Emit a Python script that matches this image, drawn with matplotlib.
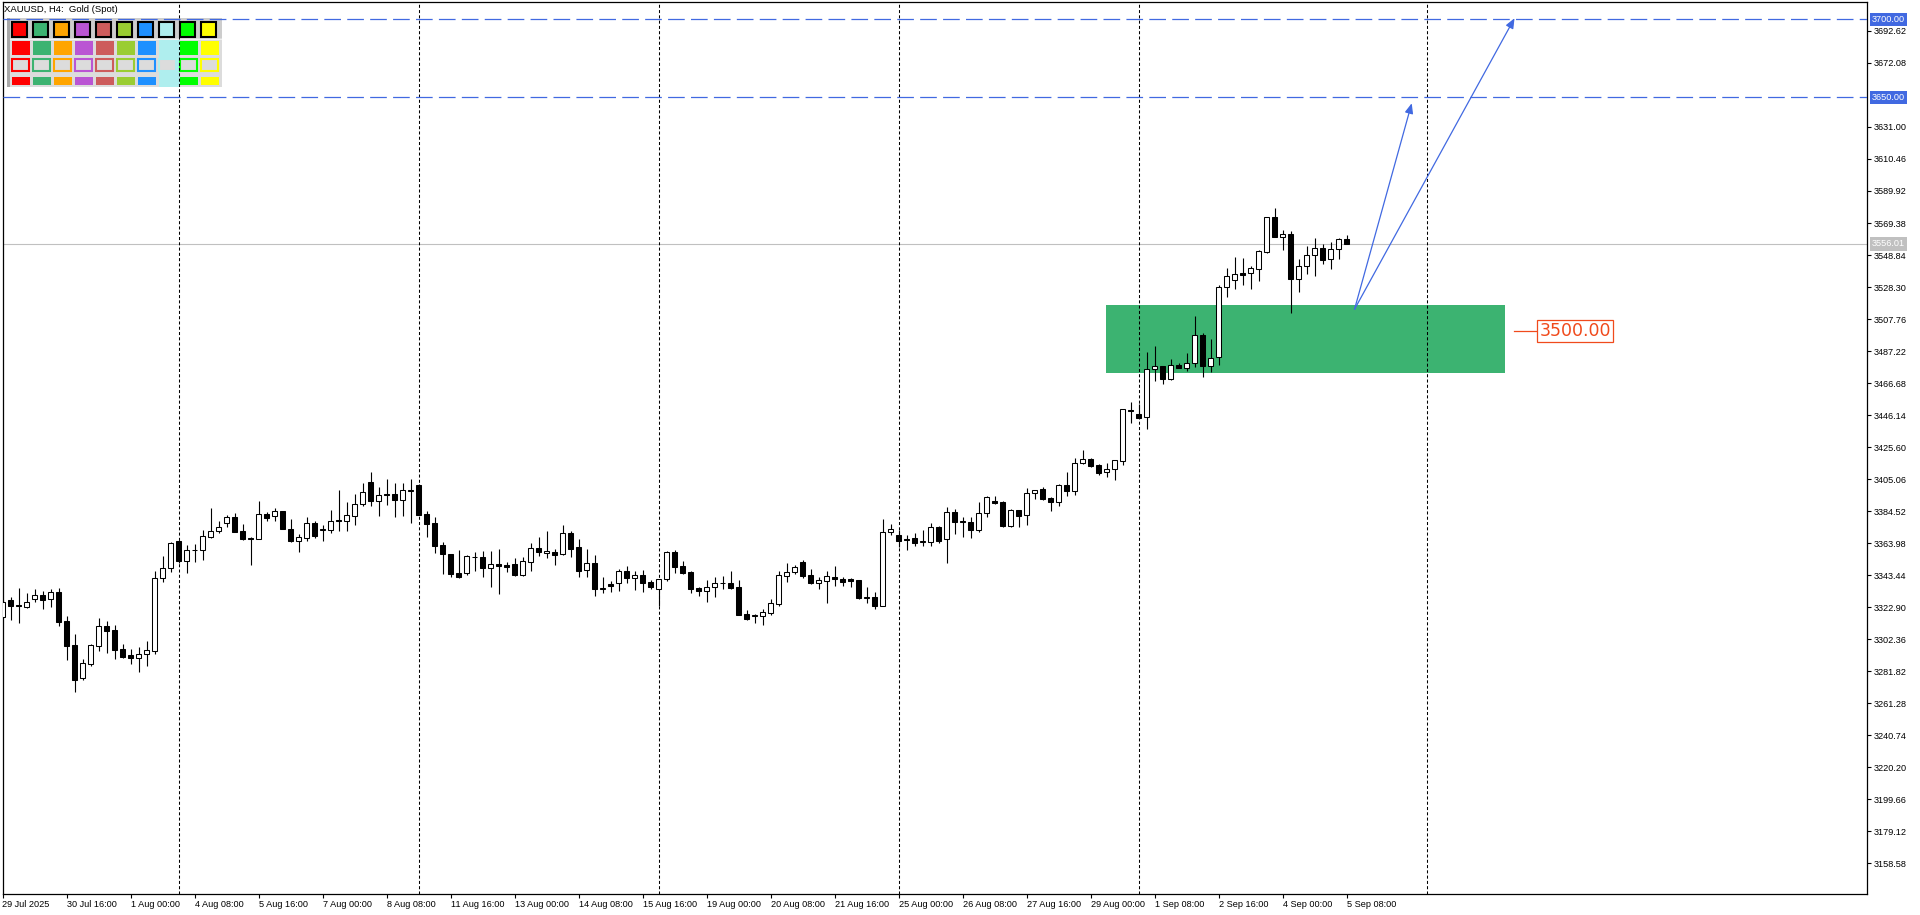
import matplotlib
matplotlib.use('Agg')
import matplotlib.pyplot as plt
import matplotlib.transforms as mtransforms
from matplotlib.patches import Rectangle

plt.rcParams['font.family'] = ['Liberation Sans', 'DejaVu Sans']
plt.rcParams['lines.scale_dashes'] = False

# XAUUSD H4, свечи по порядку (индекс бара = позиция по X)
opens = [3316.7, 3327.2, 3324.2, 3323.2, 3328.3, 3330.6, 3327.8, 3332.3, 3314.0, 3298.6,
         3277.6, 3286.6, 3298.1, 3310.8, 3308.2, 3296.0, 3292.1, 3290.4, 3292.6, 3294.9,
         3341.3, 3347.7, 3365.3, 3352.7, 3359.3, 3359.3, 3368.1, 3371.5, 3376.6, 3380.5,
         3371.7, 3367.2, 3366.8, 3382.6, 3381.5, 3384.3, 3372.8, 3365.5, 3367.4, 3376.6,
         3372.6, 3372.6, 3378.8, 3378.3, 3381.1, 3388.8, 3402.9, 3390.7, 3395.4, 3395.4,
         3391.8, 3397.6, 3401.2, 3382.6, 3376.8, 3362.7, 3356.9, 3344.5, 3344.5, 3354.8,
         3355.0, 3348.2, 3350.3, 3349.9, 3350.5, 3343.5, 3352.0, 3360.6, 3357.8, 3358.2,
         3356.9, 3370.2, 3361.2, 3346.5, 3351.0, 3334.7, 3337.7, 3338.1, 3345.8, 3341.8,
         3343.3, 3338.8, 3334.7, 3340.7, 3358.0, 3349.2, 3345.4, 3334.9, 3333.4, 3335.6,
         3338.1, 3338.1, 3335.8, 3318.2, 3317.4, 3316.9, 3319.3, 3325.1, 3343.1, 3345.2,
         3351.6, 3343.3, 3338.6, 3339.8, 3342.2, 3340.7, 3340.7, 3340.3, 3328.9, 3329.1,
         3323.8, 3370.9, 3369.0, 3366.6, 3367.3, 3364.5, 3364.9, 3374.1, 3366.8, 3384.0,
         3378.2, 3377.5, 3372.6, 3383.1, 3391.0, 3390.4, 3375.2, 3385.0, 3381.8, 3395.9,
         3398.5, 3392.9, 3390.6, 3401.3, 3397.6, 3415.6, 3417.8, 3413.9, 3409.4, 3411.3,
         3416.9, 3449.2, 3446.8, 3444.7, 3475.5, 3477.4, 3469.5, 3478.3, 3476.2, 3479.4,
         3497.3, 3477.9, 3483.2, 3528.1, 3533.1, 3537.1, 3537.1, 3540.1, 3551.0, 3573.1,
         3560.7, 3562.4, 3533.3, 3541.6, 3548.7, 3553.2, 3546.1, 3552.5, 3558.9]
highs = [3327.4, 3329.6, 3334.9, 3331.7, 3334.3, 3333.4, 3334.5, 3335.1, 3317.2, 3305.6,
         3289.6, 3299.2, 3315.9, 3314.0, 3311.4, 3299.2, 3295.8, 3297.5, 3301.1, 3346.0,
         3355.7, 3364.4, 3365.3, 3362.7, 3363.1, 3372.3, 3386.5, 3378.1, 3382.0, 3383.3,
         3376.2, 3367.6, 3391.0, 3383.9, 3386.3, 3384.3, 3379.4, 3369.6, 3380.5, 3378.1,
         3375.6, 3385.2, 3398.0, 3390.3, 3395.2, 3402.5, 3409.6, 3400.2, 3405.1, 3402.5,
         3402.5, 3405.1, 3401.8, 3384.8, 3380.5, 3364.4, 3357.2, 3359.5, 3356.3, 3358.0,
         3358.9, 3358.9, 3360.2, 3352.0, 3354.2, 3354.8, 3363.8, 3367.6, 3371.7, 3360.0,
         3375.3, 3371.7, 3366.6, 3360.2, 3356.1, 3342.2, 3339.6, 3347.1, 3349.2, 3346.0,
         3346.7, 3340.3, 3340.7, 3358.9, 3359.5, 3352.5, 3346.0, 3336.0, 3340.3, 3342.2,
         3342.8, 3346.0, 3340.3, 3321.0, 3318.4, 3321.4, 3327.8, 3346.0, 3351.0, 3349.7,
         3353.1, 3347.3, 3342.4, 3345.8, 3349.2, 3342.4, 3341.8, 3340.5, 3335.8, 3332.6,
         3379.2, 3376.3, 3372.4, 3369.2, 3370.3, 3372.4, 3376.9, 3375.0, 3387.2, 3385.9,
         3380.7, 3380.5, 3390.6, 3394.2, 3394.2, 3390.8, 3385.7, 3385.5, 3399.6, 3397.9,
         3400.0, 3393.8, 3402.1, 3409.6, 3418.6, 3423.7, 3418.6, 3414.8, 3415.4, 3417.1,
         3450.3, 3454.5, 3453.0, 3486.6, 3490.5, 3477.6, 3482.2, 3479.6, 3486.0, 3509.7,
         3498.8, 3495.0, 3529.6, 3540.5, 3547.6, 3547.0, 3542.0, 3552.1, 3573.3, 3579.1,
         3564.9, 3564.3, 3546.3, 3554.9, 3559.8, 3556.0, 3557.2, 3559.6, 3561.5]
lows = [3315.7, 3314.6, 3312.5, 3322.5, 3326.4, 3321.9, 3323.2, 3311.0, 3288.9, 3268.6,
        3276.3, 3285.1, 3294.9, 3293.6, 3289.6, 3290.4, 3286.4, 3281.4, 3285.3, 3293.0,
        3339.2, 3345.6, 3351.0, 3345.0, 3352.0, 3353.3, 3367.4, 3370.6, 3374.1, 3371.3,
        3366.1, 3350.1, 3366.4, 3378.3, 3378.3, 3372.8, 3364.9, 3358.4, 3365.5, 3367.4,
        3365.5, 3370.4, 3371.9, 3371.9, 3375.8, 3388.0, 3388.0, 3381.3, 3388.6, 3380.9,
        3381.3, 3376.6, 3382.2, 3368.1, 3357.8, 3344.3, 3342.0, 3341.8, 3343.5, 3346.2,
        3342.4, 3336.0, 3331.3, 3345.6, 3343.0, 3343.0, 3346.2, 3355.9, 3354.6, 3349.9,
        3356.5, 3355.2, 3342.0, 3342.4, 3330.2, 3332.1, 3332.6, 3333.4, 3338.6, 3333.9,
        3332.6, 3334.7, 3323.8, 3339.8, 3345.0, 3344.3, 3331.7, 3330.0, 3326.1, 3329.6,
        3334.7, 3334.7, 3317.6, 3314.8, 3312.9, 3311.4, 3317.8, 3323.8, 3339.2, 3344.3,
        3341.8, 3337.9, 3334.7, 3325.7, 3336.6, 3336.6, 3336.0, 3328.1, 3325.7, 3321.9,
        3323.6, 3369.4, 3361.7, 3359.6, 3362.4, 3362.4, 3362.4, 3364.3, 3351.0, 3370.1,
        3367.9, 3367.3, 3370.9, 3381.0, 3389.3, 3374.5, 3374.5, 3374.5, 3375.6, 3392.3,
        3391.9, 3384.8, 3387.8, 3394.4, 3395.1, 3414.8, 3413.0, 3407.9, 3406.6, 3404.5,
        3414.1, 3441.1, 3444.5, 3437.4, 3468.2, 3466.3, 3468.9, 3476.6, 3474.7, 3477.2,
        3470.8, 3474.0, 3478.5, 3522.2, 3526.9, 3529.6, 3527.3, 3532.4, 3550.0, 3560.2,
        3552.3, 3511.9, 3524.9, 3536.9, 3535.6, 3542.9, 3540.1, 3546.5, 3556.0]
closes = [3326.4, 3323.8, 3323.4, 3325.9, 3330.6, 3327.6, 3332.3, 3313.5, 3298.1, 3276.3,
          3287.0, 3298.6, 3310.8, 3307.8, 3295.6, 3291.1, 3290.4, 3292.6, 3295.1, 3341.3,
          3347.7, 3363.8, 3352.7, 3359.3, 3359.5, 3368.3, 3371.7, 3374.1, 3380.5, 3371.3,
          3366.8, 3366.4, 3382.4, 3380.3, 3384.3, 3372.8, 3365.5, 3367.6, 3376.6, 3368.5,
          3373.0, 3378.1, 3377.9, 3381.8, 3389.0, 3396.5, 3390.7, 3394.8, 3394.6, 3391.8,
          3397.8, 3398.0, 3382.2, 3376.4, 3362.3, 3357.2, 3344.3, 3342.4, 3355.7, 3355.0,
          3348.2, 3350.3, 3349.5, 3348.8, 3343.5, 3352.5, 3360.6, 3358.4, 3358.7, 3356.5,
          3370.2, 3360.4, 3346.2, 3351.0, 3334.7, 3335.3, 3336.6, 3345.8, 3341.8, 3343.3,
          3338.6, 3336.0, 3340.7, 3358.0, 3348.8, 3345.0, 3334.7, 3333.4, 3335.6, 3338.1,
          3338.3, 3335.1, 3318.0, 3315.4, 3317.8, 3319.5, 3325.3, 3343.3, 3345.2, 3348.4,
          3343.0, 3338.6, 3340.0, 3342.6, 3340.7, 3338.8, 3339.8, 3328.9, 3329.4, 3323.8,
          3370.9, 3372.8, 3365.6, 3366.0, 3364.3, 3365.4, 3374.1, 3365.6, 3383.7, 3377.8,
          3377.3, 3372.6, 3383.1, 3393.4, 3389.9, 3375.0, 3385.2, 3381.6, 3396.2, 3397.9,
          3392.3, 3390.6, 3401.3, 3397.6, 3415.6, 3417.8, 3413.7, 3409.2, 3411.3, 3417.1,
          3449.8, 3448.6, 3444.5, 3475.5, 3477.4, 3469.5, 3478.1, 3476.6, 3479.4, 3497.3,
          3477.9, 3482.6, 3528.1, 3535.2, 3536.5, 3536.3, 3540.3, 3551.5, 3573.1, 3560.7,
          3562.4, 3533.3, 3541.6, 3548.7, 3553.2, 3545.9, 3552.5, 3558.9, 3556.01]

# подписи оси времени (каждый 8-й бар)
time_labels = ['29 Jul 2025', '30 Jul 16:00', '1 Aug 00:00', '4 Aug 08:00', '5 Aug 16:00',
               '7 Aug 00:00', '8 Aug 08:00', '11 Aug 16:00', '13 Aug 00:00', '14 Aug 08:00',
               '15 Aug 16:00', '19 Aug 00:00', '20 Aug 08:00', '21 Aug 16:00', '25 Aug 00:00',
               '26 Aug 08:00', '27 Aug 16:00', '29 Aug 00:00', '1 Sep 08:00', '2 Sep 16:00',
               '4 Sep 00:00', '5 Sep 08:00']
label_step = 8

price_ticks = [3692.62, 3672.08, 3631.00, 3610.46, 3589.92, 3569.38, 3548.84, 3528.30,
               3507.76, 3487.22, 3466.68, 3446.14, 3425.60, 3405.06, 3384.52, 3363.98,
               3343.44, 3322.90, 3302.36, 3281.82, 3261.28, 3240.74, 3220.20, 3199.66,
               3179.12, 3158.58]

# разделители недель (бар понедельника 00:00)
week_starts = [22, 52, 82, 112, 142, 178]

# объекты на графике
target_levels = [3700.00, 3650.00]
last_price = 3556.01
zone_bars = [137.9, 187.8]
zone_prices = [3473.3, 3516.8]
arrow_start = (169.0, 3514.0)
arrow_ends = [(176.15, 3646.2), (189.0, 3700.8)]
label_price = 3500.00

palette = ['#FF0000', '#3CB371', '#FFA500', '#BA55D3', '#CD5C5C',
           '#9ACD32', '#1E90FF', '#AFEEEE', '#00FF00', '#FFFF00']

BLUE = '#4169E1'
RED = '#F04A1C'

W, H = 1920, 915
fig = plt.figure(figsize=(W / 100, H / 100), dpi=100)
ax = fig.add_axes([2.5 / W, 1 - 894 / H, (1867 - 2.5) / W, (894 - 2) / H])
ax.set_xlim(0, 233.06)
ax.set_ylim(3138.8, 3711.2)

n = len(opens)
xs = list(range(n))
bottoms = [min(o, c) for o, c in zip(opens, closes)]
heights = [abs(c - o) for o, c in zip(opens, closes)]
faces = ['white' if c >= o else 'black' for o, c in zip(opens, closes)]
ax.vlines(xs, lows, highs, color='black', lw=0.8, zorder=3)
ax.bar(xs, heights, bottom=bottoms, width=0.55, color=faces,
       edgecolor='black', linewidth=0.75, zorder=4)

# зона и уровни
ax.add_patch(Rectangle((zone_bars[0], zone_prices[0]), zone_bars[1] - zone_bars[0],
                       zone_prices[1] - zone_prices[0], facecolor='#3CB371',
                       edgecolor='none', zorder=1))
for ws in week_starts:
    ax.axvline(ws, color='black', lw=0.75, ls=(0, (2.2, 1.6)), zorder=2.5)
for lv in target_levels:
    ax.axhline(lv, color=BLUE, lw=0.9, ls=(0, (12, 4.5)), zorder=5)
ax.axhline(last_price, color='#C0C0C0', lw=0.8, zorder=2)

for end in arrow_ends:
    ax.annotate('', xy=end, xytext=arrow_start,
                arrowprops=dict(arrowstyle='-|>,head_length=0.6,head_width=0.25',
                                color=BLUE, lw=0.9, mutation_scale=10,
                                shrinkA=0, shrinkB=0), zorder=6)

# ценовая метка 3500
ax.plot([188.9, 191.8], [label_price, label_price], color=RED, lw=0.9, zorder=6)
ax.text(192.1, label_price, f'{label_price:.2f}', ha='left', va='center',
        fontsize=12.5, color=RED, family='DejaVu Sans', zorder=7,
        bbox=dict(boxstyle='square,pad=0.12', fc='white', ec=RED, lw=0.9))

# оси
for s in ax.spines.values():
    s.set_color('black')
    s.set_linewidth(0.9)
ax.yaxis.tick_right()
ax.set_yticks(price_ticks)
ax.set_yticklabels([f'{v:.2f}' for v in price_ticks])
ax.tick_params(axis='y', direction='out', length=3, width=0.8, pad=1.5,
               labelsize=6.6, colors='black')
ax.set_xticks(xs[::label_step])
ax.set_xticklabels(time_labels, ha='left')
ax.tick_params(axis='x', direction='out', length=3, width=0.8, pad=1.5,
               labelsize=6.6, colors='black')


def price_box(p, txt, bg):
    ax.annotate(txt, xy=(1, p), xycoords=('axes fraction', 'data'),
                xytext=(5, 0), textcoords='offset pixels', ha='left', va='center',
                fontsize=6.6, color='white', annotation_clip=False,
                bbox=dict(boxstyle='square,pad=0.25', fc=bg, ec='none'))


for lv in target_levels:
    price_box(lv, f'{lv:.2f}', BLUE)
price_box(last_price, f'{last_price:.2f}', '#C0C0C0')

fig.text(4 / W, 1 - 9.5 / H, 'XAUUSD, H4:  Gold (Spot)', va='center', fontsize=6.8)

# панель цветов в левом верхнем углу (координаты в пикселях, ось Y вниз)
px = mtransforms.Affine2D().scale(1, -1).translate(0, H)


def box(x, y, w, h, **kw):
    r = Rectangle((x, y), w, h, transform=px, zorder=kw.pop('zorder', 2), **kw)
    ax.add_artist(r)


box(7.3, 18.3, 214.4, 69, fc='#DCDCDC', ec='none')
box(7.3, 18.3, 214.4, 20.2, fc='#CDCDCD', ec='none')
box(7.3, 38.5, 214.4, 1.2, fc='#F0F0F0', ec='none')
box(7.3, 18.3, 2.7, 69, fc='#A8A8A8', ec='none')
for i, col in enumerate(palette):
    x0 = 11.7 + 21 * i
    if i == 7:
        box(x0, 39.7, 21, 47.6, fc=col, ec='none')
    box(x0 + 1, 22.7, 15, 15, fc='#909090', ec='none')
    box(x0, 21.7, 15, 15, fc=col, ec='black', lw=1.5, zorder=2.1)
    box(x0, 40.7, 18.3, 14.3, fc=col, ec='none')
    box(x0 + 0.7, 59, 17, 12.3, fc='#DCDCDC', ec=col, lw=1.5)
    box(x0, 76.7, 18.3, 8.3, fc=col, ec='none')

fig.savefig('out.png', dpi=100)
